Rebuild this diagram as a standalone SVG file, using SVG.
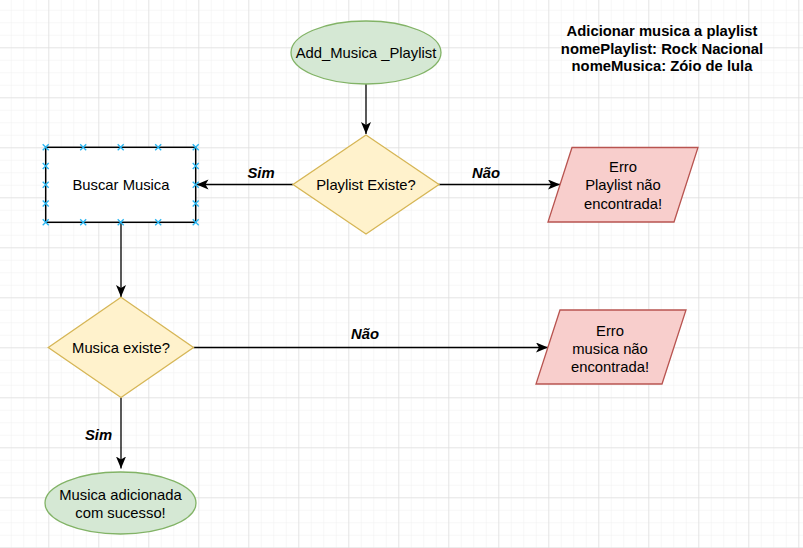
<svg xmlns="http://www.w3.org/2000/svg" xmlns:xlink="http://www.w3.org/1999/xlink" width="803" height="548" viewBox="0 0 803 548">
<style>
text{font-family:"Liberation Sans",Arial,sans-serif;font-size:14.8px;fill:#000;text-anchor:middle}
.b{font-weight:bold}
.lbl{font-weight:bold;font-style:italic}
.edge{stroke:#000;stroke-width:1.3;fill:none;marker-end:url(#arr)}
.start{fill:#d5e8d4;stroke:#82b366;stroke-width:1.3}
.dec{fill:#fff2cc;stroke:#d6b656;stroke-width:1.3}
.err{fill:#f8cecc;stroke:#b85450;stroke-width:1.3}
.proc{fill:#fff;stroke:#000;stroke-width:1.5}
.xm{stroke:#29b6f2;stroke-width:1.3;fill:none}
</style>
<defs>
<pattern id="minor" width="12.5" height="12.5" patternUnits="userSpaceOnUse" x="-1.7" y="-2.7">
<path d="M0,0 H12.5 M0,0 V12.5" stroke="#efefef" stroke-width="1" fill="none"/>
</pattern>
<pattern id="major" width="50" height="50" patternUnits="userSpaceOnUse" x="-1.7" y="-2.7">
<path d="M0,0 H50 M0,0 V50" stroke="#d6d6d6" stroke-width="1" fill="none"/>
</pattern>
<marker id="arr" markerUnits="userSpaceOnUse" markerWidth="14" markerHeight="12" refX="12" refY="5" orient="auto">
<path d="M0,0 L12,5 L0,10 L3,5 Z" fill="#000"/>
</marker>
<path id="xmk" class="xm" d="M-3,-3 L3,3 M-3,3 L3,-3"/>
</defs>
<rect width="803" height="548" fill="#fff"/>
<rect width="803" height="548" fill="url(#minor)"/>
<rect width="803" height="548" fill="url(#major)"/>

<g id="connectors">
<line class="edge" x1="366" y1="84" x2="366" y2="134"/>
<line class="edge" x1="293" y1="184.5" x2="196.5" y2="184.5"/>
<line class="edge" x1="438.5" y1="184.5" x2="560" y2="184.5"/>
<line class="edge" x1="121" y1="222.5" x2="121" y2="297"/>
<line class="edge" x1="193.5" y1="347.5" x2="548" y2="347.5"/>
<line class="edge" x1="121" y1="397.5" x2="121" y2="468.5"/>
<text class="lbl" x="261" y="178.2">Sim</text>
<text class="lbl" x="486" y="178.2">Não</text>
<text class="lbl" x="365" y="339.2">Não</text>
<text class="lbl" x="98.5" y="440.2">Sim</text>
</g>

<g id="title">
<text class="b" x="662" y="35.9">Adicionar musica a playlist</text>
<text class="b" x="662" y="53.5">nomePlaylist: Rock Nacional</text>
<text class="b" x="662" y="70.9">nomeMusica: Zóio de lula</text>
</g>

<g id="start">
<ellipse class="start" cx="366" cy="52.5" rx="75" ry="31.5"/>
<text x="366" y="58.2">Add_Musica _Playlist</text>
</g>

<g id="playlist-existe">
<polygon class="dec" points="366,135 439,184.5 366,234 293,184.5"/>
<text x="366" y="190.2">Playlist Existe?</text>
</g>

<g id="erro-playlist">
<polygon class="err" points="572,147.5 698,147.5 674,222 548,222"/>
<text x="623" y="171.9">Erro</text>
<text x="623" y="190.2">Playlist não</text>
<text x="623" y="208.5">encontrada!</text>
</g>

<g id="buscar-musica">
<rect class="proc" x="45.7" y="147.3" width="150" height="75"/>
<text x="121" y="190.2">Buscar Musica</text>
<use xlink:href="#xmk" x="45.7" y="147.3"/>
<use xlink:href="#xmk" x="83.2" y="147.3"/>
<use xlink:href="#xmk" x="120.7" y="147.3"/>
<use xlink:href="#xmk" x="158.2" y="147.3"/>
<use xlink:href="#xmk" x="195.7" y="147.3"/>
<use xlink:href="#xmk" x="45.7" y="222.3"/>
<use xlink:href="#xmk" x="83.2" y="222.3"/>
<use xlink:href="#xmk" x="120.7" y="222.3"/>
<use xlink:href="#xmk" x="158.2" y="222.3"/>
<use xlink:href="#xmk" x="195.7" y="222.3"/>
<use xlink:href="#xmk" x="45.7" y="166.05"/>
<use xlink:href="#xmk" x="45.7" y="184.8"/>
<use xlink:href="#xmk" x="45.7" y="203.55"/>
<use xlink:href="#xmk" x="195.7" y="166.05"/>
<use xlink:href="#xmk" x="195.7" y="184.8"/>
<use xlink:href="#xmk" x="195.7" y="203.55"/>
</g>

<g id="musica-existe">
<polygon class="dec" points="121,297.3 193.5,347.5 121,397.5 48.3,347.5"/>
<text x="121" y="353.4">Musica existe?</text>
</g>

<g id="erro-musica">
<polygon class="err" points="560,310 686,310 662,384 536,384"/>
<text x="610" y="335.9">Erro</text>
<text x="610" y="353.5">musica não</text>
<text x="610" y="371.9">encontrada!</text>
</g>

<g id="fim">
<ellipse class="start" cx="120.5" cy="503" rx="75.5" ry="31"/>
<text x="120.5" y="500.2">Musica adicionada</text>
<text x="120.5" y="517.9">com sucesso!</text>
</g>
</svg>
